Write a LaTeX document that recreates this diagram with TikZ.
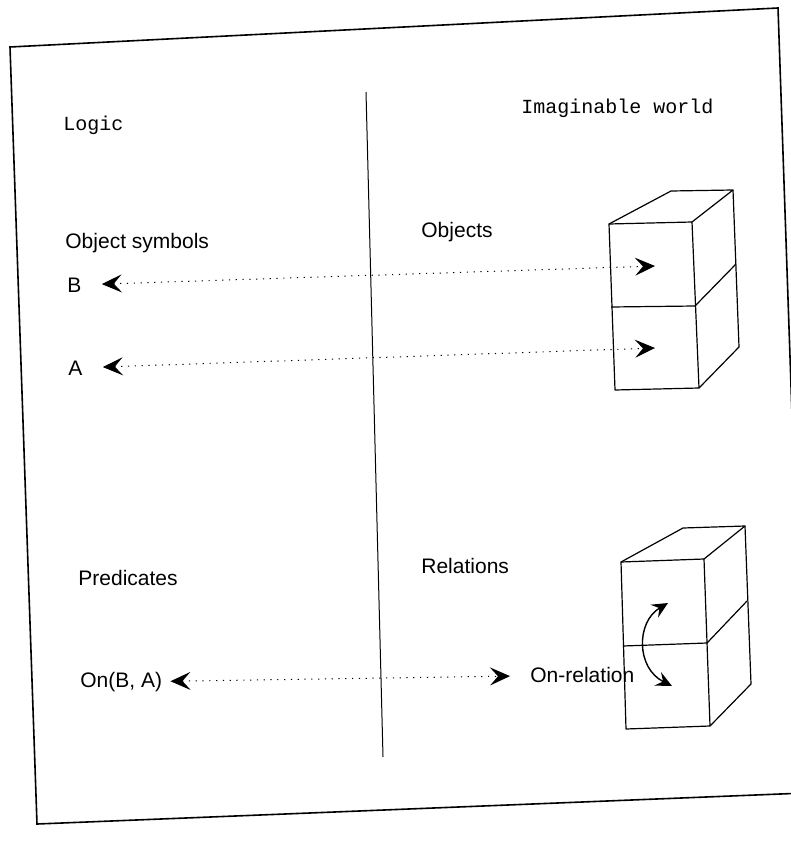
\documentclass[tikz,border=0pt]{standalone}
\usepackage{fontspec}
\setmainfont{Liberation Sans}
\newfontfamily\typewriter{Liberation Mono}
\usetikzlibrary{arrows.meta, positioning}

\begin{document}
\begin{tikzpicture}[x=0.5pt, y=-0.5pt,
		label/.style={inner sep=0pt, anchor=west, font=\fontsize{10.5}{12}\selectfont},
		heading/.style={inner sep=0pt, anchor=west, font=\typewriter\fontsize{10}{12}\selectfont},
		link/.style={line width=0.5pt, dash pattern=on 0.6pt off 2.8pt,
			{Stealth[length=10pt, width=9pt, inset=4pt]}-{Stealth[length=10pt, width=9pt, inset=4pt]}},
		block/.style={line width=0.6pt, line join=round},
		turn/.style={line width=0.7pt,
			{Stealth[length=8pt, width=7.5pt, inset=3pt]}-{Stealth[length=8pt, width=7.5pt, inset=3pt]}}]
		\clip (0,0) rectangle (791,850);
		
		% frame and divider
		\draw[line width=0.8pt] (10,47) -- (778,8) -- (805,793) -- (37,824) -- cycle;
		\draw[line width=0.5pt] (366,92) -- (383,757);
		
		% headings
		\node[heading] (logic) at (63,125) {Logic};
		\node[heading] (world) at (521,108) {Imaginable world};
		
		% object symbols
		\node[label] (symbols) at (65,243) {Object symbols};
		\node[label] (objects) at (421,232) {Objects};
		\node[label] (B) at (67,285) {B};
		\node[label] (A) at (68,368) {A};
		
		% upper pair of blocks
		\coordinate (uFL) at (609,224);
		\coordinate (uFR) at (692,222);
		\coordinate (uML) at (611,307);
		\coordinate (uMR) at (695,306);
		\coordinate (uBL) at (615,390);
		\coordinate (uBR) at (699,388);
		\coordinate (uTL) at (671,191);
		\coordinate (uTR) at (733,190);
		\coordinate (uRM) at (736,264);
		\coordinate (uRB) at (739,347);
		\draw[block] (uFL) -- (uFR) -- (uBR) -- (uBL) -- cycle;
		\draw[block] (uML) -- (uMR) -- (uRM);
		\draw[block] (uFL) -- (uTL) -- (uTR) -- (uFR);
		\draw[block] (uTR) -- (uRB) -- (uBR);
		
		\coordinate (Bobj) at (655,266);
		\coordinate (Aobj) at (655,348);
		\draw[link, shorten <=10pt] (B) -- (Bobj);
		\draw[link, shorten <=10pt] (A) -- (Aobj);
		
		% predicates
		\node[label] (predicates) at (78,578) {Predicates};
		\node[label] (relations) at (421,566) {Relations};
		\node[label] (on) at (80,682) {On(B, A)};
		\node[label] (onrel) at (530,675) {On-relation};
		\draw[link, shorten <=4pt, shorten >=10pt] (on) -- (onrel);
		
		% lower pair of blocks
		\coordinate (lFL) at (621,562);
		\coordinate (lFR) at (704,559);
		\coordinate (lML) at (623,646);
		\coordinate (lMR) at (707,643);
		\coordinate (lBL) at (626,729);
		\coordinate (lBR) at (710,726);
		\coordinate (lTL) at (683,528);
		\coordinate (lTR) at (745,526);
		\coordinate (lRM) at (747,601);
		\coordinate (lRB) at (751,684);
		\draw[block] (lFL) -- (lFR) -- (lBR) -- (lBL) -- cycle;
		\draw[block] (lML) -- (lMR) -- (lRM);
		\draw[block] (lFL) -- (lTL) -- (lTR) -- (lFR);
		\draw[block] (lTR) -- (lRB) -- (lBR);
		
		% B sits on A
		\coordinate (up) at (668,603);
		\coordinate (down) at (672,686);
		\draw[turn] (up) .. controls (636,622) and (636,668) .. (down);
\end{tikzpicture}
\end{document}
